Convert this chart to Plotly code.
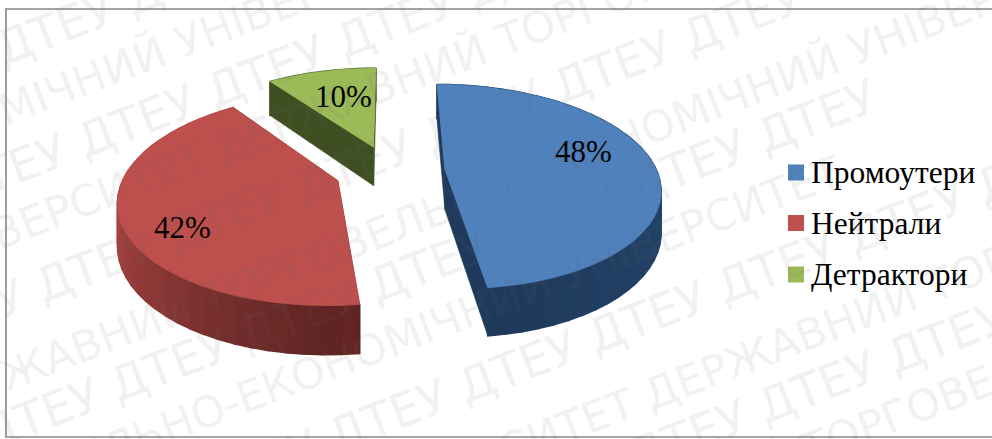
import math
import plotly.graph_objects as go

# Chart data
categories = ["Промоутери", "Нейтрали", "Детрактори"]
values = [48, 42, 10]
top_colors = ["#4f81bd", "#bd4f4c", "#9bbb59"]
wall_light = ["#234469", "#a84543", "#47592a"]
wall_dark = ["#1e3859", "#5e2423", "#3d4c20"]
radial_colors = ["#1f3a5c", "#5e2423", "#3f4f22"]
label_xy = [(583, 151), (182, 227), (343, 96)]
legend_y = [172.5, 223, 274.5]

# Tilted-disc projection of the exploded pie
EXPLODE = 0.26
A, B, K = 212, 100, 0.17
X0, Y0, DEPTH = 390, 171, 40
FONT = "Liberation Serif"


def project(u, v, z=0.0):
    w = 1 + K * v
    return X0 + A * u / w, Y0 - B * v / w + DEPTH * z / w


def mix(c1, c2, t):
    a = [int(c1[i:i + 2], 16) for i in (1, 3, 5)]
    b = [int(c2[i:i + 2], 16) for i in (1, 3, 5)]
    return "rgb(%d,%d,%d)" % tuple(round(p + (q - p) * t) for p, q in zip(a, b))


def polygon(points, color, stroke=0.6):
    xs, ys = zip(*points)
    return go.Scatter(
        x=list(xs) + [xs[0]], y=list(ys) + [ys[0]], mode="lines", fill="toself",
        fillcolor=color, line=dict(color=color, width=stroke),
        hoverinfo="skip", showlegend=False,
    )


fig = go.Figure()
total = sum(values)
start = 0.0
for i, value in enumerate(values):
    sweep = 360.0 * value / total
    end = start + sweep
    mid = math.radians(start + sweep / 2)
    ou, ov = EXPLODE * math.sin(mid), EXPLODE * math.cos(mid)
    steps = max(12, int(sweep / 4))
    angles = [math.radians(start + sweep * s / steps) for s in range(steps + 1)]
    rim = [(ou + math.sin(a), ov + math.cos(a)) for a in angles]

    # outer wall, shaded in strips from the lit side to the dark side
    for s in range(steps):
        (u1, v1), (u2, v2) = rim[s], rim[s + 1]
        side = abs(math.sin((angles[s] + angles[s + 1]) / 2))
        front = math.cos(angles[s]) < 0
        shade = (1 - side) ** 0.7 if front else 0.0
        fig.add_trace(polygon(
            [project(u1, v1), project(u2, v2), project(u2, v2, 1), project(u1, v1, 1)],
            mix(wall_light[i], wall_dark[i], shade), stroke=1.4,
        ))
    # cut faces running from the apex to the rim
    for (u, v) in (rim[0], rim[-1]):
        fig.add_trace(polygon(
            [project(ou, ov), project(u, v), project(u, v, 1), project(ou, ov, 1)],
            radial_colors[i],
        ))
    # top face
    fig.add_trace(polygon([project(ou, ov)] + [project(u, v) for u, v in rim], top_colors[i]))
    start = end

# Legend swatches
for i in range(len(categories)):
    fig.add_trace(go.Scatter(
        x=[796], y=[legend_y[i]], mode="markers",
        marker=dict(symbol="square", size=16, color=top_colors[i]),
        hoverinfo="skip", showlegend=False,
    ))

# Legend names and value labels
annotations = [
    dict(x=809, y=ly, xref="x", yref="y", text=name, showarrow=False, xanchor="left",
         font=dict(family=FONT, size=31.5, color="black"))
    for name, ly in zip(categories, legend_y)
]
annotations += [
    dict(x=lx, y=ly, xref="x", yref="y", text=f"{v}%", showarrow=False,
         font=dict(family=FONT, size=31, color="black"))
    for (lx, ly), v in zip(label_xy, values)
]

# Diagonal security text laid over the page
NAME = "ДЕРЖАВНИЙ ТОРГОВЕЛЬНО-ЕКОНОМІЧНИЙ УНІВЕРСИТЕТ"
SHORT = " ".join(["ДТЕУ"] * 12)
ANGLE = -21
SLOPE = math.tan(math.radians(-ANGLE))
name_rows = [(113, 460), (234, 210), (378, -85), (492, -373), (645, 640), (760, 515)]
short_rows = [(50, 120), (173, 72), (302, 30), (430, 105), (565, 712), (700, 882)]
for rows, text, size in ((name_rows, " ".join([NAME] * 2), 43), (short_rows, SHORT, 47)):
    for y0, cx in rows:
        annotations.append(dict(
            x=cx / 992, y=1 - (y0 - SLOPE * cx) / 439, xref="paper", yref="paper",
            text=text, textangle=ANGLE, showarrow=False, xanchor="center", yanchor="middle",
            font=dict(family="DejaVu Sans", size=size, color="rgba(110,110,110,0.115)"),
        ))

fig.update_layout(
    width=992, height=439, margin=dict(l=0, r=0, t=0, b=0),
    paper_bgcolor="white", plot_bgcolor="white", showlegend=False,
    xaxis=dict(range=[0, 992], visible=False, fixedrange=True),
    yaxis=dict(range=[439, 0], visible=False, fixedrange=True),
    annotations=annotations,
    shapes=[dict(type="rect", xref="x", yref="y", x0=6, y0=9, x1=1000, y1=437,
                 line=dict(color="#868686", width=1.6))],
)
fig.write_html("out.html", config=dict(displayModeBar=False))
